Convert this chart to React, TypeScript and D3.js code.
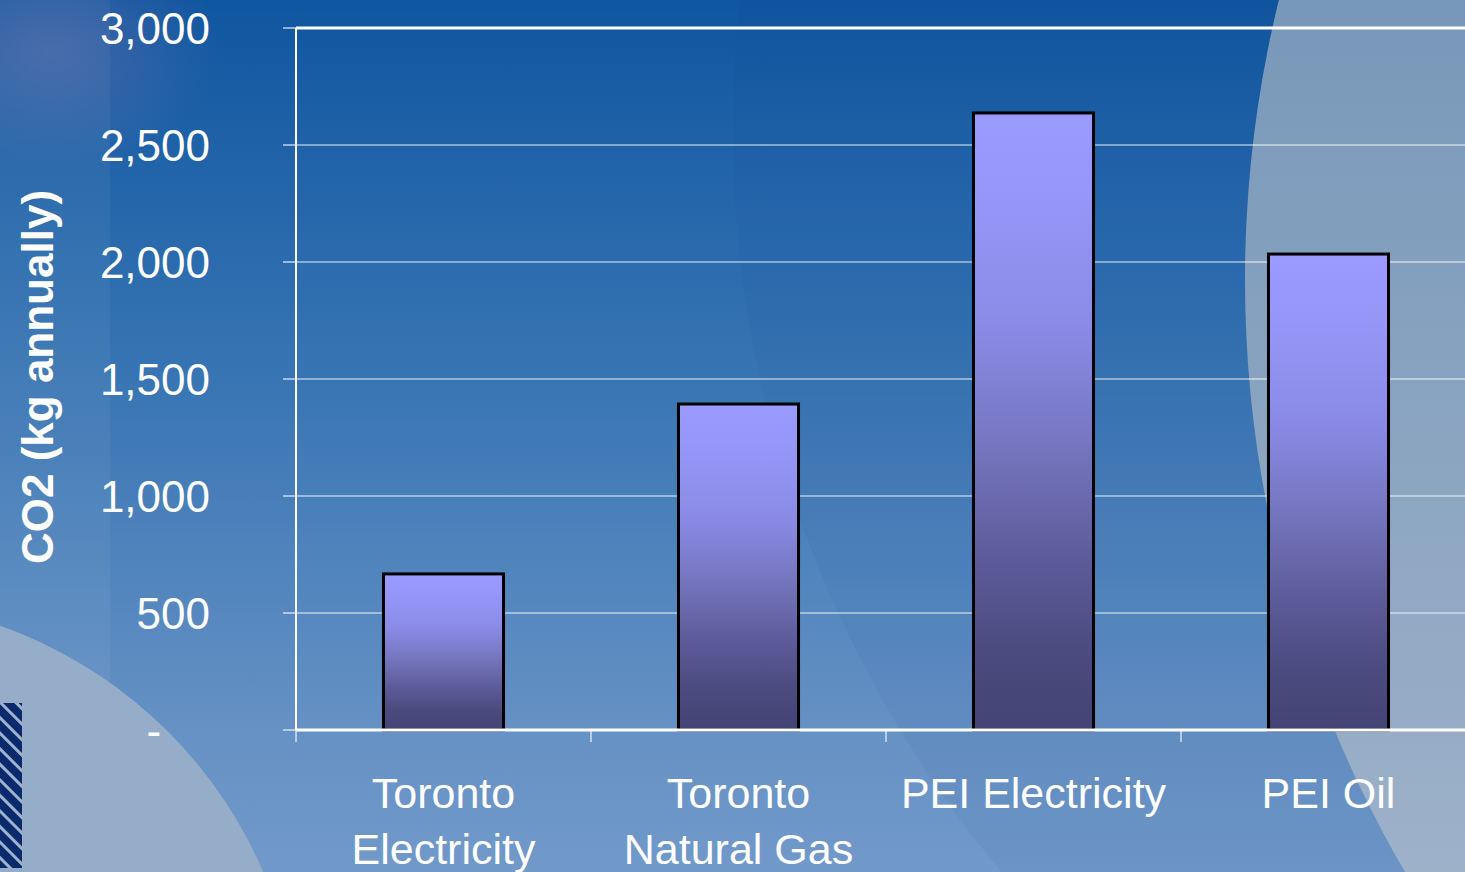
import React from "react";
import * as d3 from "d3";

const categories: string[][] = [
  ["Toronto", "Electricity"],
  ["Toronto", "Natural Gas"],
  ["PEI Electricity"],
  ["PEI Oil"],
];
const values: number[] = [667, 1393, 2637, 2034];
const tickValues: number[] = [0, 500, 1000, 1500, 2000, 2500, 3000];
const tickLabels: string[] = ["-    ", "500", "1,000", "1,500", "2,000", "2,500", "3,000"];
const yTitle = "CO2 (kg annually)";

const W = 1465;
const H = 872;
const left = 296;
const right = 1476;
const top = 28;
const bottom = 730;

export default function App() {
  const x = d3.scaleBand<number>().domain(d3.range(categories.length)).range([left, right]).padding(0);
  const y = d3.scaleLinear().domain([0, 3000]).range([bottom, top]);
  const barW = x.bandwidth() * 0.407;
  const font = "'Liberation Sans', Arial, Helvetica, sans-serif";

  return (
    <svg width={W} height={H} style={{ position: "absolute", left: 0, top: 0, display: "block" }}>
      <defs>
        <linearGradient id="bg" x1="0" y1="0" x2="0" y2="1">
          <stop offset="0" stopColor="#0f56a0" />
          <stop offset="0.45" stopColor="#3a76b4" />
          <stop offset="0.85" stopColor="#6792c5" />
          <stop offset="1" stopColor="#7199ca" />
        </linearGradient>
        <linearGradient id="circR" gradientUnits="userSpaceOnUse" x1="0" y1="0" x2="0" y2="872">
          <stop offset="0" stopColor="#7898b9" />
          <stop offset="1" stopColor="#9db1c9" />
        </linearGradient>
        <linearGradient id="bar" x1="0" y1="0" x2="0" y2="1">
          <stop offset="0" stopColor="#9a9aff" />
          <stop offset="0.12" stopColor="#9797fa" />
          <stop offset="0.35" stopColor="#8a8ae6" />
          <stop offset="0.55" stopColor="#7474bd" />
          <stop offset="0.72" stopColor="#5d5c9a" />
          <stop offset="0.87" stopColor="#4b4b80" />
          <stop offset="1" stopColor="#434374" />
        </linearGradient>
        <radialGradient id="blob" cx="0.5" cy="0.5" r="0.5">
          <stop offset="0" stopColor="#8a7ab0" stopOpacity="0.4" />
          <stop offset="1" stopColor="#8a7ab0" stopOpacity="0" />
        </radialGradient>
        <pattern id="hatch" width="11" height="11" patternUnits="userSpaceOnUse" patternTransform="rotate(-45)">
          <rect x="0" y="0" width="11" height="11" fill="#9fb3cc" />
          <rect x="0" y="0" width="8" height="11" fill="#0b2a6e" />
        </pattern>
      </defs>

      {/* background */}
      <rect x={0} y={0} width={W} height={H} fill="url(#bg)" />
      <rect x={0} y={0} width={110} height={H} fill="#ffffff" opacity={0.05} />
      <circle cx={1893} cy={130} r={1160} fill="#0a3c80" opacity={0.05} />
      <ellipse cx={50} cy={50} rx={170} ry={120} fill="url(#blob)" />
      <circle cx={2420} cy={280} r={1175} fill="url(#circR)" />
      <circle cx={-150} cy={1050} r={450} fill="#95adc9" />
      <rect x={0} y={703} width={22} height={165} fill="url(#hatch)" />

      {/* gridlines */}
      {tickValues.filter((v) => v > 0 && v < 3000).map((v) => (
        <line key={"g" + v} x1={left} x2={W} y1={y(v)} y2={y(v)} stroke="#ffffff" strokeWidth={1.2} opacity={0.9} />
      ))}
      {/* y ticks */}
      {tickValues.map((v) => (
        <line key={"t" + v} x1={283} x2={left} y1={y(v)} y2={y(v)} stroke="#ffffff" strokeWidth={1.2} opacity={0.9} />
      ))}
      {/* bars */}
      {values.map((v, i) => {
        const cx = (x(i) as number) + x.bandwidth() / 2;
        return (
          <rect key={"b" + i} x={cx - barW / 2} y={y(v)} width={barW} height={y(0) - y(v)}
            fill="url(#bar)" stroke="#000000" strokeWidth={3} />
        );
      })}
      {/* axes frame */}
      <line x1={left} x2={W} y1={top} y2={top} stroke="#ffffff" strokeWidth={3} />
      <line x1={left} x2={left} y1={top} y2={bottom} stroke="#ffffff" strokeWidth={2} />
      <line x1={left} x2={W} y1={bottom} y2={bottom} stroke="#ffffff" strokeWidth={3} />
      {categories.map((_, i) => (
        <line key={"xt" + i} x1={x(i) as number} x2={x(i) as number} y1={bottom} y2={742} stroke="#ffffff" strokeWidth={1.2} opacity={0.9} />
      ))}

      {/* y tick labels */}
      {tickValues.map((v, i) => (
        <text key={"yl" + v} x={210} y={y(v)} dy="0.36em" textAnchor="end" fill="#ffffff"
          fontFamily={font} fontSize={44} style={{ whiteSpace: "pre" }}>
          {tickLabels[i]}
        </text>
      ))}

      {/* x labels */}
      {categories.map((lines, i) => {
        const cx = (x(i) as number) + x.bandwidth() / 2;
        return (
          <text key={"xl" + i} textAnchor="middle" fill="#ffffff" fontFamily={font} fontSize={43}>
            {lines.map((ln, j) => (
              <tspan key={j} x={cx} y={808 + j * 56}>{ln}</tspan>
            ))}
          </text>
        );
      })}

      {/* y title */}
      <text transform={`translate(53, ${377}) rotate(-90)`} textAnchor="middle" fill="#ffffff"
        fontFamily={font} fontSize={44} fontWeight="bold">
        {yTitle}
      </text>
    </svg>
  );
}
